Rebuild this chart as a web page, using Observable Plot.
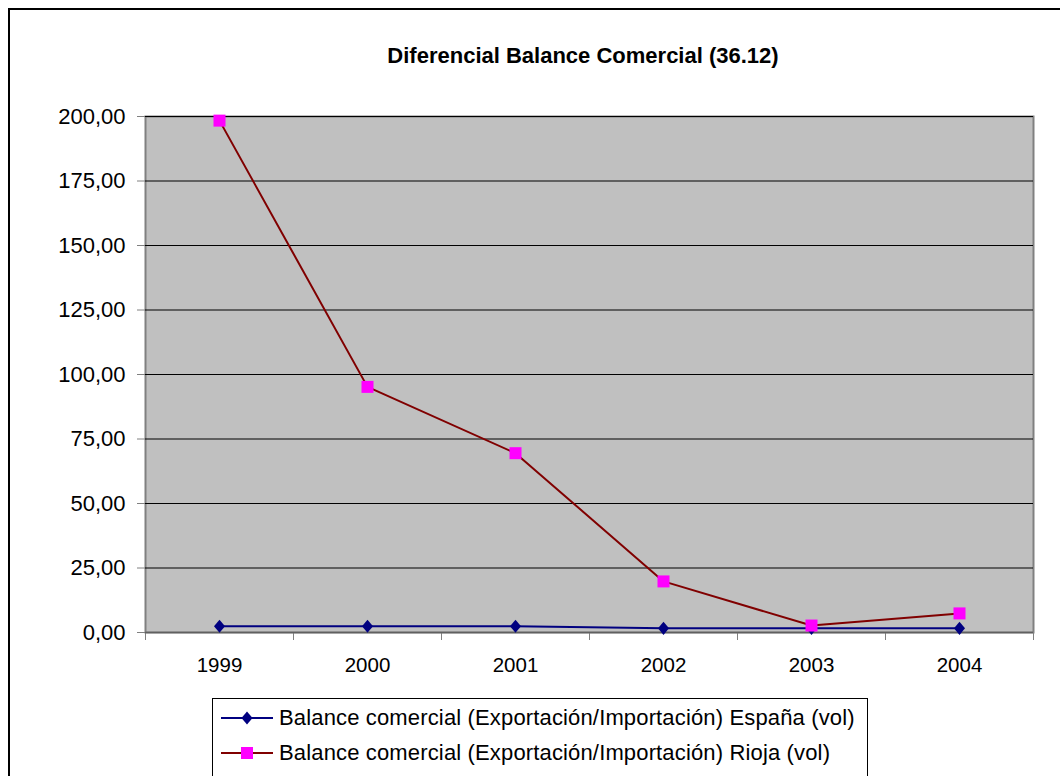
<!DOCTYPE html>
<html>
<head>
<meta charset="utf-8">
<script src="https://cdn.jsdelivr.net/npm/d3@7"></script>
<script src="https://cdn.jsdelivr.net/npm/@observablehq/plot@0.6"></script>
<style>
  body { margin: 0; background: #fff; font-family: "Liberation Sans", Arial, sans-serif; }
  #wrap { position: relative; width: 1060px; height: 776px; overflow: hidden; background: #fff; }
  #outer { position: absolute; left: 8px; top: 8px; width: 1100px; height: 820px; border: 2px solid #000; }
  #title { position: absolute; left: 283px; width: 600px; top: 43px; text-align: center; font-weight: bold; font-size: 22px; line-height: 26px; color: #000; }
  #chart { position: absolute; left: 0; top: 0; }
  #legend { position: absolute; left: 212px; top: 698px; width: 654px; height: 100px; border: 1px solid #000; background: #fff; }
  .row { position: absolute; left: 6px; height: 30px; display: flex; align-items: center; font-size: 22px; letter-spacing: 0.15px; color: #000; white-space: nowrap; }
  .row svg { margin-right: 4px; }
</style>
</head>
<body>
<div id="wrap">
  <div id="outer"></div>
  <div id="title"></div>
  <div id="chart"></div>
  <div id="legend"></div>
</div>
<script>
const title = "Diferencial Balance Comercial (36.12)";
const years = [1999, 2000, 2001, 2002, 2003, 2004];
const espana = [2.4, 2.4, 2.4, 1.6, 1.6, 1.6];
const rioja = [198.4, 95.2, 69.5, 19.8, 2.7, 7.4];
const seriesNames = [
  "Balance comercial (Exportación/Importación) España (vol)",
  "Balance comercial (Exportación/Importación) Rioja (vol)"
];
const yTicks = [0, 25, 50, 75, 100, 125, 150, 175, 200];

const colors = { line: ["#000080", "#800000"], marker: ["#000080", "#FF00FF"] };

// Excel-style diamond: slightly taller than wide
const excelDiamond = {
  draw(context, size) {
    const h = Math.sqrt(size) * 0.56, w = h * 0.85;
    context.moveTo(0, -h);
    context.lineTo(w, 0);
    context.lineTo(0, h);
    context.lineTo(-w, 0);
    context.closePath();
  }
};
const symbols = [excelDiamond, d3.symbolSquare];
const sizes = [135, 144];
const radii = sizes.map(s => Math.sqrt(s / Math.PI));

const data = [];
years.forEach((y, i) => {
  data.push({ year: y, value: espana[i], series: seriesNames[0] });
  data.push({ year: y, value: rioja[i], series: seriesNames[1] });
});
const boundaries = years.map(y => y - 0.5).concat([years[years.length - 1] + 0.5]);

document.getElementById("title").textContent = title;

const fmt = d => d.toFixed(2).replace(".", ",");

const chart = Plot.plot({
  width: 1060,
  height: 776,
  marginLeft: 145,
  marginRight: 27,
  marginTop: 116,
  marginBottom: 144,
  style: { fontFamily: "Liberation Sans, Arial, sans-serif", background: "transparent", color: "#000" },
  x: { type: "linear", domain: [boundaries[0], boundaries[boundaries.length - 1]] },
  y: { domain: [0, 200] },
  marks: [
    Plot.frame({ fill: "#c0c0c0", stroke: "#808080", strokeWidth: 2 }),
    Plot.gridY(yTicks, { stroke: "#000", strokeOpacity: 1, strokeWidth: 1 }),
    Plot.axisY({ ticks: yTicks, tickFormat: fmt, tickSize: 8, tickPadding: 12, fontSize: 22, stroke: "#808080", label: null }),
    Plot.axisX({ ticks: boundaries, tickFormat: () => "", tickSize: 8, stroke: "#808080", label: null }),
    Plot.axisX({ ticks: years, tickFormat: d => String(d), tickSize: 0, tickPadding: 25, fontSize: 20.5, label: null }),
    Plot.ruleY([0], { stroke: "#606060", strokeWidth: 1.5 }),
    Plot.line(data.filter(d => d.series === seriesNames[0]), { x: "year", y: "value", stroke: colors.line[0], strokeWidth: 2 }),
    Plot.line(data.filter(d => d.series === seriesNames[1]), { x: "year", y: "value", stroke: colors.line[1], strokeWidth: 2 }),
    Plot.dot(data.filter(d => d.series === seriesNames[0]), { x: "year", y: "value", symbol: symbols[0], r: radii[0], fill: colors.marker[0], stroke: "none" }),
    Plot.dot(data.filter(d => d.series === seriesNames[1]), { x: "year", y: "value", symbol: symbols[1], r: radii[1], fill: colors.marker[1], stroke: "none" })
  ]
});
document.getElementById("chart").appendChild(chart);

// Legend
const legend = document.getElementById("legend");
seriesNames.forEach((name, i) => {
  const row = document.createElement("div");
  row.className = "row";
  row.style.top = (4 + i * 35) + "px";
  const svg = d3.create("svg").attr("width", 56).attr("height", 20);
  svg.append("line").attr("x1", 2).attr("x2", 54).attr("y1", 10).attr("y2", 10)
    .attr("stroke", colors.line[i]).attr("stroke-width", 2);
  svg.append("path").attr("transform", "translate(28,10)")
    .attr("d", d3.symbol(symbols[i], sizes[i])())
    .attr("fill", colors.marker[i]);
  row.appendChild(svg.node());
  const span = document.createElement("span");
  span.textContent = name;
  row.appendChild(span);
  legend.appendChild(row);
});
</script>
</body>
</html>
